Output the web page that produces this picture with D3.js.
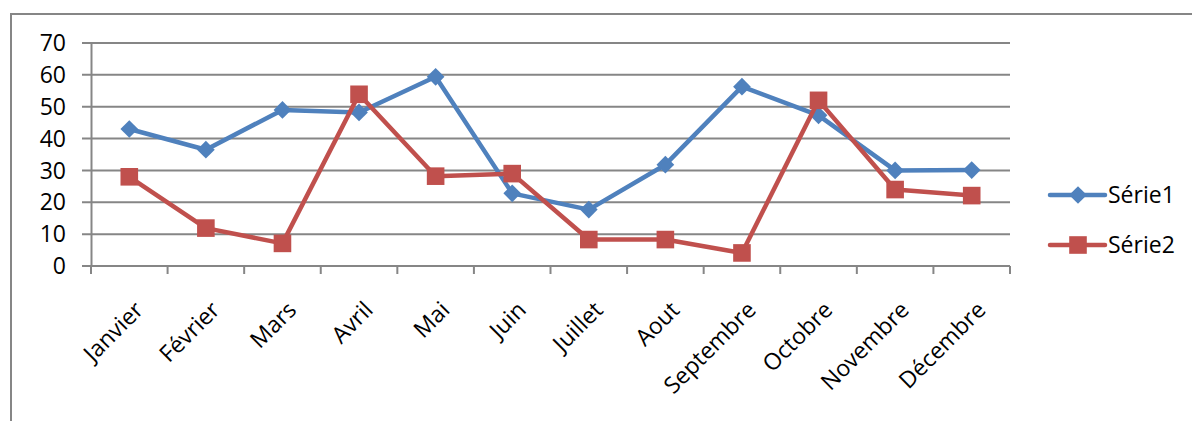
<!DOCTYPE html>
<html>
<head>
<meta charset="utf-8">
<script src="https://cdn.jsdelivr.net/npm/d3@7"></script>
<style>
  body { margin: 0; background: #fff; }
  text { font-family: "Open Sans", sans-serif; fill: #000; }
</style>
</head>
<body>
<div id="chart"></div>
<script>
//Data
const months = ["Janvier", "Février", "Mars", "Avril", "Mai", "Juin", "Juillet", "Aout", "Septembre", "Octobre", "Novembre", "Décembre"];
const serie1 = [43, 36.5, 49, 48.2, 59.4, 22.8, 17.7, 31.8, 56.3, 47.3, 30, 30.1];
const serie2 = [28, 11.9, 7.1, 53.9, 28.2, 29, 8.3, 8.3, 4.1, 52, 24, 22.1];
const yTicks = [0, 10, 20, 30, 40, 50, 60, 70];
const seriesNames = ["Série1", "Série2"];

//Global variables
const width = 1192;
const height = 421;
const plotLeft = 91, plotRight = 1010, plotTop = 43, plotBottom = 266;
const blue = "#4f81bd", red = "#c0504d", gray = "#868686";
const fontSize = "23px";

const svg = d3.select("#chart")
    .append("svg")
    .attr("width", width)
    .attr("height", height);

//Outer frame (runs off right and bottom)
svg.append("path")
    .attr("d", `M11,${height + 5} L11,14 L${width + 5},14`)
    .attr("fill", "none")
    .attr("stroke", gray)
    .attr("stroke-width", 2);

//Scales
const xScale = d3.scaleBand()
    .domain(months)
    .range([plotLeft, plotRight]);

const yScale = d3.scaleLinear()
    .domain([0, 70])
    .range([plotBottom, plotTop]);

//Gridlines with left tick marks
svg.append("g")
    .selectAll("line")
    .data(yTicks)
    .enter()
    .append("line")
    .attr("x1", plotLeft - 9)
    .attr("x2", plotRight)
    .attr("y1", d => yScale(d))
    .attr("y2", d => yScale(d))
    .attr("stroke", gray)
    .attr("stroke-width", 2);

//Y axis
const leftAxis = d3.axisLeft(yScale)
    .tickValues(yTicks)
    .tickSize(0)
    .tickPadding(25);

const gy = svg.append("g")
    .attr("transform", "translate(" + plotLeft + ",0)")
    .call(leftAxis);
gy.select(".domain").attr("stroke", gray).attr("stroke-width", 2);
gy.selectAll("text").style("font-size", fontSize).attr("dy", "0.33em");

//X axis, ticks at band edges
const gx = svg.append("g")
    .attr("transform", "translate(0," + plotBottom + ")");

gx.append("line")
    .attr("x1", plotLeft).attr("x2", plotRight)
    .attr("stroke", gray).attr("stroke-width", 2);

gx.selectAll(".tickmark")
    .data(months.concat(["end"]))
    .enter()
    .append("line")
    .attr("class", "tickmark")
    .attr("x1", (d, i) => i < months.length ? xScale(d) : plotRight)
    .attr("x2", (d, i) => i < months.length ? xScale(d) : plotRight)
    .attr("y1", 0)
    .attr("y2", 8)
    .attr("stroke", gray)
    .attr("stroke-width", 2);

//Tilted month labels
gx.selectAll(".label")
    .data(months)
    .enter()
    .append("text")
    .attr("class", "label")
    .attr("transform", d => "translate(" + (xScale(d) + xScale.bandwidth() / 2 + 4) + ",34) rotate(-45)")
    .attr("text-anchor", "end")
    .attr("dy", "0.7em")
    .style("font-size", fontSize)
    .text(d => d);

//Lines
const line = d3.line()
    .x((d, i) => xScale(months[i]) + xScale.bandwidth() / 2)
    .y(d => yScale(d));

const diamond = d3.symbol().type(d3.symbolDiamond2).size(200);
const square = d3.symbol().type(d3.symbolSquare).size(310);

svg.append("path")
    .datum(serie1)
    .attr("d", line)
    .attr("fill", "none")
    .attr("stroke", blue)
    .attr("stroke-width", 4.5)
    .attr("stroke-linejoin", "round");

svg.append("g")
    .selectAll("path")
    .data(serie1)
    .enter()
    .append("path")
    .attr("d", diamond)
    .attr("transform", (d, i) => "translate(" + (xScale(months[i]) + xScale.bandwidth() / 2) + "," + yScale(d) + ")")
    .attr("fill", blue);

svg.append("path")
    .datum(serie2)
    .attr("d", line)
    .attr("fill", "none")
    .attr("stroke", red)
    .attr("stroke-width", 4.5)
    .attr("stroke-linejoin", "round");

svg.append("g")
    .selectAll("path")
    .data(serie2)
    .enter()
    .append("path")
    .attr("d", square)
    .attr("transform", (d, i) => "translate(" + (xScale(months[i]) + xScale.bandwidth() / 2) + "," + yScale(d) + ")")
    .attr("fill", red);

//Legend
const legend = svg.append("g")
    .selectAll("g")
    .data(seriesNames)
    .enter()
    .append("g")
    .attr("transform", (d, i) => "translate(1050," + (195 + i * 50) + ")");

legend.append("line")
    .attr("x1", 0).attr("x2", 55)
    .attr("stroke", (d, i) => i === 0 ? blue : red)
    .attr("stroke-width", 4.5)
    .attr("stroke-linecap", "round");

legend.append("path")
    .attr("d", (d, i) => i === 0 ? diamond() : square())
    .attr("transform", "translate(28,0)")
    .attr("fill", (d, i) => i === 0 ? blue : red);

legend.append("text")
    .attr("x", 58)
    .attr("dy", "0.35em")
    .style("font-size", fontSize)
    .text(d => d);
</script>
</body>
</html>
